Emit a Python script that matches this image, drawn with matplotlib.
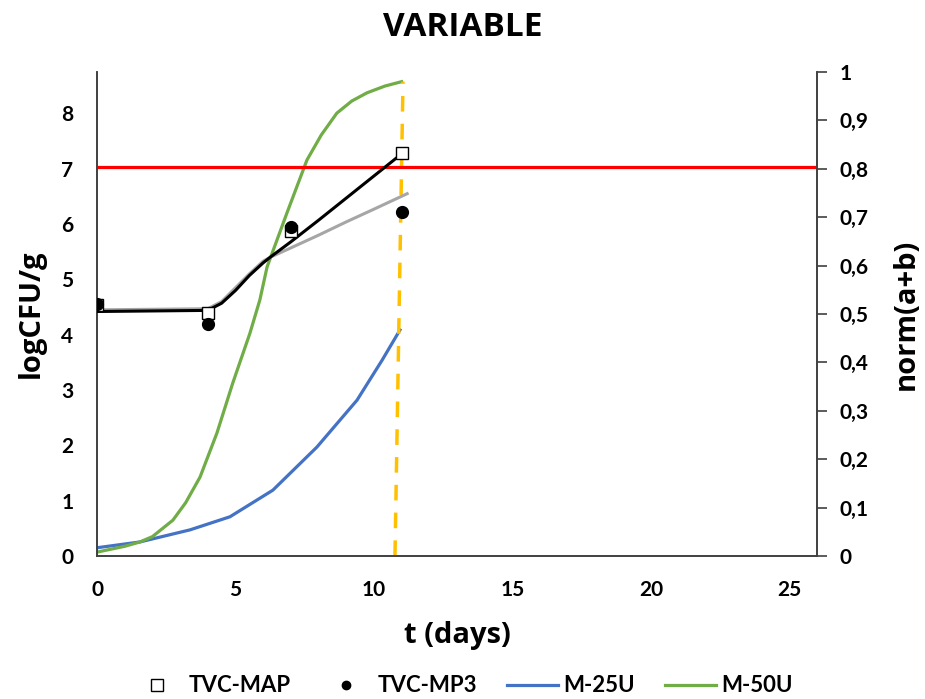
import matplotlib
matplotlib.use("Agg")
import matplotlib.pyplot as plt
from matplotlib.lines import Line2D

plt.rcParams['font.family'] = ['Lato', 'DejaVu Sans']
plt.rcParams['font.weight'] = 'bold'

# Observed data (left axis, logCFU/g)
t_obs = [0, 4, 7, 11]
tvc_map = [4.53, 4.39, 5.88, 7.29]
tvc_mp3 = [4.55, 4.20, 5.94, 6.21]

# Fitted curves (left axis)
t_fit_black = [0, 4, 4.5, 5, 5.5, 6, 6.25, 7, 8, 9, 10, 11]
fit_black = [4.42, 4.44, 4.57, 4.80, 5.07, 5.30, 5.40, 5.68, 6.07, 6.47, 6.87, 7.27]
t_fit_gray = [0, 4, 4.5, 5, 5.5, 6, 6.25, 7, 8, 9, 10, 11.2]
fit_gray = [4.45, 4.47, 4.60, 4.85, 5.10, 5.33, 5.40, 5.57, 5.80, 6.04, 6.27, 6.55]

# Threshold (left axis)
threshold = 7.04

# Right axis curves norm(a+b)
t_m25 = [0, 1.55, 3.36, 4.8, 6.35, 7.94, 9.39, 10.3, 10.94]
m25u = [0.017, 0.029, 0.054, 0.081, 0.136, 0.225, 0.322, 0.405, 0.467]
t_m50 = [0, 1, 1.55, 2, 2.74, 3.2, 3.72, 4.33, 4.9, 5.52, 5.88, 6.14, 6.86, 7.58,
         8.1, 8.66, 9.2, 9.75, 10.4, 11]
m50u = [0.008, 0.02, 0.029, 0.04, 0.074, 0.11, 0.163, 0.254, 0.357, 0.46, 0.529,
        0.597, 0.709, 0.818, 0.87, 0.915, 0.94, 0.957, 0.971, 0.98]

# Dashed marker line (right axis)
t_dash = [10.76, 11.05]
y_dash = [0, 0.98]

x_ticks = [0, 5, 10, 15, 20, 25]
left_ticks = [0, 1, 2, 3, 4, 5, 6, 7, 8]
right_ticks = [0, 0.1, 0.2, 0.3, 0.4, 0.5, 0.6, 0.7, 0.8, 0.9, 1]
right_tick_labels = ['0', '0,1', '0,2', '0,3', '0,4', '0,5', '0,6', '0,7', '0,8', '0,9', '1']

TITLE_FONT = ['Open Sans', 'DejaVu Sans']

fig = plt.figure(figsize=(9.25, 6.99), dpi=100)
ax = fig.add_axes([0.1049, 0.2046, 0.7783, 0.6924])
ax2 = ax.twinx()
ax.set_zorder(ax2.get_zorder() + 1)
ax.patch.set_visible(False)

# right-axis curves
ax2.plot(t_m25, m25u, color='#4472C4', lw=2.3)
ax2.plot(t_m50, m50u, color='#70AD47', lw=2.3)
ax2.plot(t_dash, y_dash, color='#FFC000', lw=2.5, dashes=(4.5, 3.5))

# left-axis
ax.axhline(threshold, color='#FF0000', lw=2.3, zorder=2)
ax.plot(t_fit_gray, fit_gray, color='#A6A6A6', lw=2.2, zorder=3)
ax.plot(t_fit_black, fit_black, color='black', lw=2.2, zorder=4)
ax.plot(t_obs, tvc_map, linestyle='none', marker='s', markersize=8.5,
        markerfacecolor='white', markeredgecolor='black', markeredgewidth=1.0, zorder=5)
ax.plot(t_obs, tvc_mp3, linestyle='none', marker='o', markersize=8.5,
        markerfacecolor='black', markeredgecolor='black', zorder=6)

ax.set_xlim(0, 26)
ax.set_ylim(0, 8.75)
ax2.set_ylim(0, 1)

ax.set_xticks(x_ticks)
ax.set_yticks(left_ticks)
ax2.set_yticks(right_ticks)
ax2.set_yticklabels(right_tick_labels)

for a in (ax, ax2):
    a.spines['top'].set_visible(False)
    for s in a.spines.values():
        s.set_color('#404040')
        s.set_linewidth(1.2)

ax.tick_params(axis='x', length=0, labelsize=15, pad=17)
ax.tick_params(axis='y', length=0, labelsize=15, pad=17)
ax2.tick_params(axis='y', length=7, width=1.2, color='#404040', labelsize=15, pad=9)

for lab in ax.get_xticklabels() + ax.get_yticklabels() + ax2.get_yticklabels():
    lab.set_fontweight('bold')

ax.set_xlabel('t (days)', fontsize=21, fontweight='bold', family=TITLE_FONT, va='center')
ax.xaxis.set_label_coords(0.5, -0.165)
ax.set_ylabel('logCFU/g', fontsize=21, fontweight='bold', family=TITLE_FONT,
              va='center', ha='center')
ax.yaxis.set_label_coords(-0.092, 0.5)
ax2.set_ylabel('norm(a+b)', fontsize=21, fontweight='bold', family=TITLE_FONT,
               va='center', ha='center')
ax2.yaxis.set_label_coords(1.1236, 0.5)

fig.text(0.5, 1 - 28 / 699, 'VARIABLE', fontsize=24, fontweight='bold',
         family=TITLE_FONT, ha='center', va='center')

handles = [
    Line2D([], [], linestyle='none', marker='s', markersize=9, markerfacecolor='white',
           markeredgecolor='black'),
    Line2D([], [], linestyle='none', marker='o', markersize=6, markerfacecolor='black',
           markeredgecolor='black'),
    Line2D([], [], color='#4472C4', lw=2.3),
    Line2D([], [], color='#70AD47', lw=2.3),
]
fig.legend(handles, ['TVC-MAP', 'TVC-MP3', 'M-25U', 'M-50U'], loc='center',
           ncol=4, frameon=False, fontsize=16, bbox_to_anchor=(0.5, 13 / 699),
           handlelength=2.3, columnspacing=1.35, handletextpad=0.25, borderpad=0)

fig.savefig('out.png', dpi=100)
